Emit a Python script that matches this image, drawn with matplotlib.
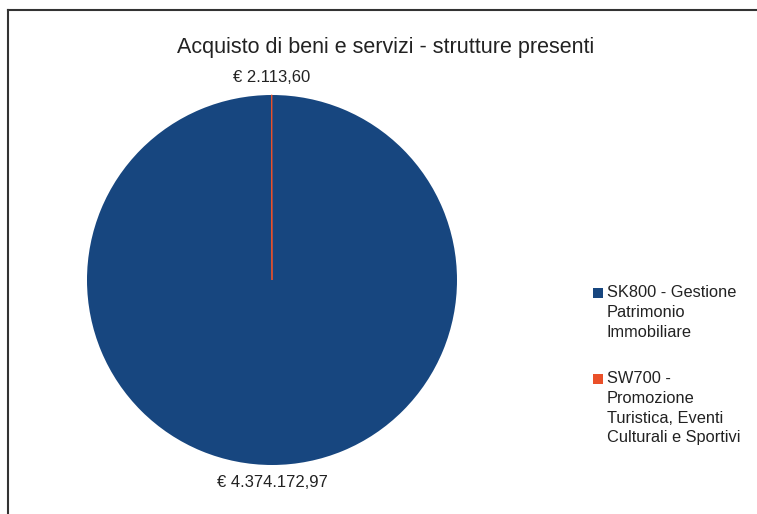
import matplotlib
matplotlib.use("Agg")
import numpy as np
from matplotlib import pyplot as plt
from matplotlib.lines import Line2D
from matplotlib.patches import Rectangle

# data
labels = ["SK800 - Gestione\nPatrimonio\nImmobiliare",
          "SW700 -\nPromozione\nTuristica, Eventi\nCulturali e Sportivi"]
values = [4374172.97, 2113.60]
colors = ["#17467f", "#ea5029"]


def euro(v):
	s = f"{v:,.2f}"
	s = s.replace(",", "X").replace(".", ",").replace("X", ".")
	return "€ " + s


plt.rcParams["font.family"] = ["Liberation Sans", "DejaVu Sans"]

fig = plt.figure(figsize=(7.57, 5.14), dpi=100)
W, H = 757, 514

# pie axes: centre (272, 280) px, radius 185 px
cx, cy, r = 272, 280, 185
ax = fig.add_axes([(cx - r) / W, (H - cy - r) / H, 2 * r / W, 2 * r / H])
wedges, _ = ax.pie(values, colors=colors, startangle=90, counterclock=False,
				   radius=1.0, wedgeprops=dict(linewidth=0))
# tiny slice shows as a thin line
wedges[1].set_edgecolor(colors[1])
wedges[1].set_linewidth(0.6)
ax.set_xlim(-1, 1)
ax.set_ylim(-1, 1)
ax.set_aspect("equal")
ax.axis("off")

for w, v in zip(wedges, values):
	ang = np.deg2rad((w.theta1 + w.theta2) / 2)
	ax.text(1.095 * np.cos(ang), 1.095 * np.sin(ang), euro(v), ha="center", va="center",
			fontsize=12, color="#222222")

fig.text(386 / W, 1 - 47 / H, "Acquisto di beni e servizi - strutture presenti",
		 ha="center", va="center", fontsize=15.5, color="#222222")

# legend, drawn by hand
tops = [285, 371]
for lab, c, t in zip(labels, colors, tops):
	fig.add_artist(Rectangle((593 / W, 1 - (t + 13) / H), 10 / W, 10 / H,
							 facecolor=c, edgecolor="none"))
	fig.text(607 / W, 1 - t / H, lab, ha="left", va="top", fontsize=11.8,
			 linespacing=1.4, color="#222222")

# chart frame (top and left edges)
fig.add_artist(Line2D([8 / W, 1], [1 - 10 / H, 1 - 10 / H], color="#333333", lw=1.5))
fig.add_artist(Line2D([8 / W, 8 / W], [0, 1 - 10 / H], color="#333333", lw=1.5))

fig.savefig("out.png", dpi=100)
